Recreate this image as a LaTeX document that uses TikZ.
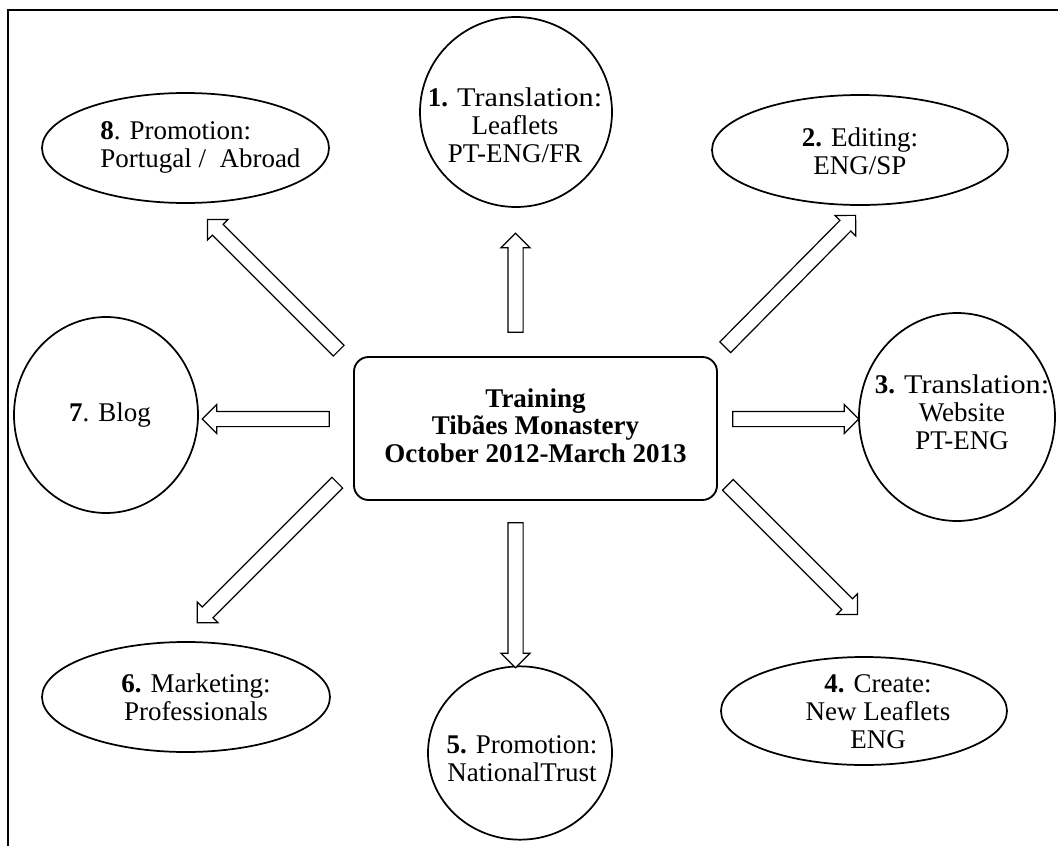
\documentclass[tikz,border=0pt]{standalone}
\usepackage{fontspec}
\usepackage{graphicx}
\setmainfont{Liberation Serif}
\usetikzlibrary{shapes.geometric,shapes.arrows,calc}
\tikzset{
  lbl/.style={inner sep=0pt, align=center, font=\fontsize{20.25pt}{21pt}\selectfont},
  oval/.style={ellipse, draw, line width=1.3pt, inner sep=0pt},
  hub/.style={rectangle, rounded corners=11pt, draw, line width=1.4pt, inner sep=0pt,
    align=center, font=\bfseries\fontsize{20.25pt}{20.6pt}\selectfont},
  barrow/.style={single arrow, draw, fill=white, line width=0.9pt, inner xsep=0pt,
    inner ysep=5.25pt, single arrow head extend=5.25pt, single arrow head indent=0pt,
    minimum width=0pt, outer sep=0pt},
  frame/.style={line width=2pt}
}
\newcommand\blockarrow[3]{%
  \path let \p1=($(#3)-(#2)$), \n1={veclen(\x1,\y1)} in
    (#2) -- (#3) node[barrow, midway, sloped, allow upside down, minimum height=\n1] (#1) {};}
\newcommand\wide[1]{\scalebox{1.12}[1]{#1}}
\begin{document}
\begin{tikzpicture}[x=0.75pt, y=-0.75pt]
\useasboundingbox (0,0) rectangle (1058,846);
\draw[frame] (1058,10) -- (8,10) -- (8,846);

% central node
\node[hub, minimum width=272.25pt, minimum height=107.25pt] (c) at (535.5,428.5)
  {Training\\Tibães Monastery\\October 2012-March 2013\rule[-4.5pt]{0pt}{4.5pt}};

% outer shapes
\node[oval, minimum width=144pt,    minimum height=142.5pt] (e1) at (516,112) {};
\node[oval, minimum width=222pt,    minimum height=82.5pt]  (e2) at (860,150) {};
\node[oval, minimum width=147pt,    minimum height=156pt]   (e3) at (957,417) {};
\node[oval, minimum width=214.5pt,  minimum height=81pt]    (e4) at (864,711) {};
\node[oval, minimum width=138pt,    minimum height=130pt]   (e5) at (520,753) {};
\node[oval, minimum width=216pt,    minimum height=82.5pt]  (e6) at (186,697) {};
\node[oval, minimum width=138pt,    minimum height=147pt]   (e7) at (106,415) {};
\node[oval, minimum width=215.25pt, minimum height=82.5pt]  (e8) at (185.5,148) {};

% labels
\node[lbl, anchor=north] (t1) at (515,87.5) {\textbf{1.} \wide{Translation:}\\Leaflets\\PT-ENG/FR};
\node[lbl, anchor=north] (t2) at (860,127) {\textbf{2.} Editing:\\ENG/SP};
\node[lbl, anchor=north] (t3) at (962,374.5) {\textbf{3.} \wide{Translation:}\\Website\\PT-ENG};
\node[lbl, anchor=north] (t4) at (878,674) {\textbf{4.} Create:\\New Leaflets\\ENG};
\node[lbl, anchor=north] (t5) at (522,735) {\textbf{5.} Promotion:\\NationalTrust};
\node[lbl, anchor=north] (t6) at (196,673.5) {\textbf{6.} Marketing:\\Professionals};
\node[lbl, anchor=north] (t7) at (110,402) {\textbf{7}. Blog};
\node[lbl, anchor=north west, align=left] (t8) at (100,121.5) {\textbf{8}. Promotion:\\Portugal /\ \ Abroad};

% arrow end points
\coordinate (s1) at (515.5,336);   \coordinate (h1) at (515.5,237);
\coordinate (s2) at (722.5,350);   \coordinate (h2) at (853,218);
\coordinate (s3) at (729,419);     \coordinate (h3) at (855,419);
\coordinate (s4) at (725,482);     \coordinate (h4) at (855,612);
\coordinate (s5) at (515.5,519);   \coordinate (h5) at (515.5,664);
\coordinate (s6) at (340,480);     \coordinate (h6) at (200,620);
\coordinate (s7) at (333,419);     \coordinate (h7) at (206,419);
\coordinate (s8) at (341.5,353.5); \coordinate (h8) at (210,222);

\blockarrow{a1}{s1}{h1}
\blockarrow{a2}{s2}{h2}
\blockarrow{a3}{s3}{h3}
\blockarrow{a4}{s4}{h4}
\blockarrow{a5}{s5}{h5}
\blockarrow{a6}{s6}{h6}
\blockarrow{a7}{s7}{h7}
\blockarrow{a8}{s8}{h8}
\end{tikzpicture}
\end{document}
